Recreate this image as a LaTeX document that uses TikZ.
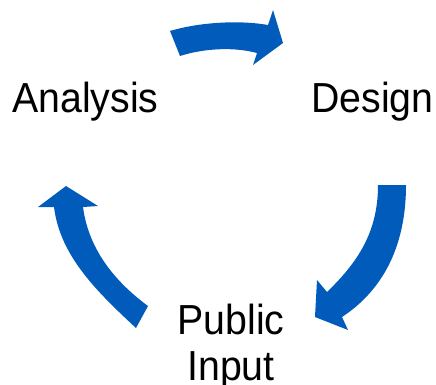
\documentclass[tikz,border=0pt]{standalone}
\usepackage{fontspec}
\setmainfont{Liberation Sans}[FakeStretch=0.935]
\definecolor{cycleblue}{RGB}{0,91,187}
\begin{document}
\begin{tikzpicture}[x=1pt,y=-1pt,
  stage/.style={inner sep=0pt,font=\fontsize{42}{46}\selectfont},
  bigarrow/.style={fill=cycleblue,draw=none}]
\useasboundingbox (0,0) rectangle (436,384);

% stage labels
\node[stage,anchor=base west] (analysis) at (12,112) {Analysis};
\node[stage,anchor=base west] (design) at (311,112) {Design};
\node[stage,anchor=base,align=center] (public) at (231,380) {Public\\Input};

% Analysis -> Design
\path[bigarrow] (170,31) .. controls (200,22) and (240,20) .. (268,25)
  -- (273,10) -- (283,43) -- (253,65) -- (257,53)
  .. controls (235,47) and (205,48) .. (180,56) -- cycle;

% Design -> Public Input
\path[bigarrow] (378,185) -- (406,185)
  .. controls (406,250) and (380,292) .. (342,317)
  -- (348,330) -- (315,317) -- (317,280) -- (327,292)
  .. controls (358,262) and (378,232) .. (378,185) -- cycle;

% Public Input -> Analysis
\path[bigarrow] (148,306) -- (136,328)
  .. controls (95,290) and (60,255) .. (54,207)
  -- (38,207) -- (66,186) -- (98,206) -- (83,207)
  .. controls (88,245) and (110,278) .. (148,306) -- cycle;
\end{tikzpicture}
\end{document}
